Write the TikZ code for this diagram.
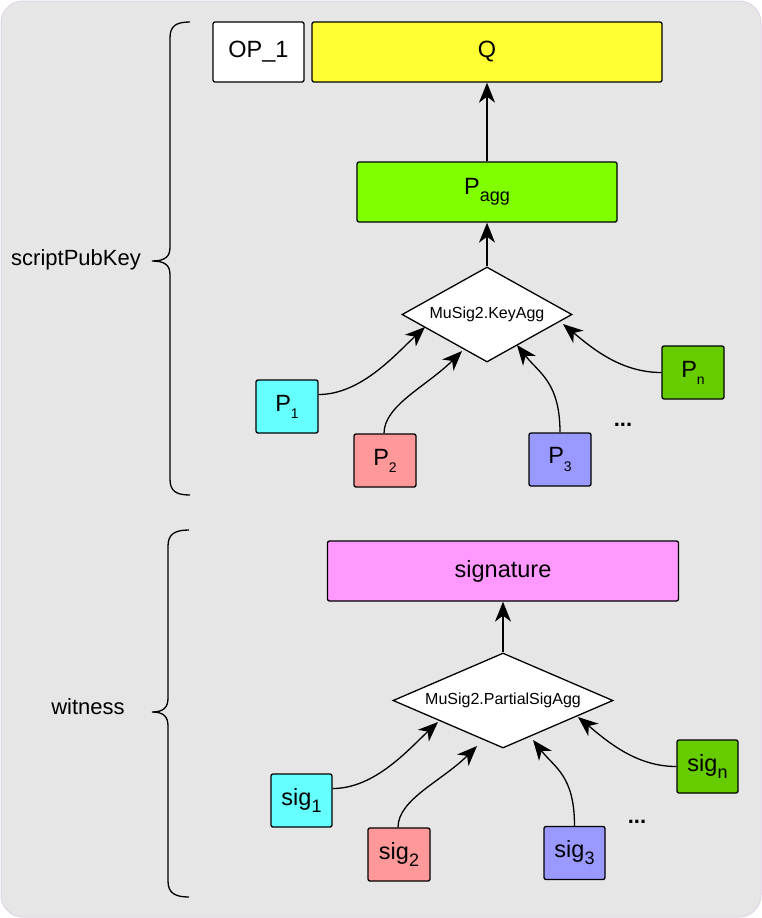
\documentclass[tikz,border=0pt]{standalone}
\usepackage{fontspec}
\setmainfont{Liberation Sans}
\usetikzlibrary{shapes.geometric,arrows.meta}

\definecolor{bggray}{HTML}{E6E6E6}
\definecolor{frame}{HTML}{E1D5E7}
\definecolor{qyellow}{HTML}{FFFF33}
\definecolor{aggreen}{HTML}{80FF00}
\definecolor{cyanbox}{HTML}{66FFFF}
\definecolor{redbox}{HTML}{FF9999}
\definecolor{bluebox}{HTML}{9999FF}
\definecolor{greenbox}{HTML}{66CC00}
\definecolor{sigpink}{HTML}{FF99FF}

\newcommand{\psub}[1]{\raisebox{-0.3em}{\fontsize{14}{14}\selectfont #1}}
\newcommand{\ssub}[1]{\raisebox{-0.3em}{\fontsize{18}{18}\selectfont #1}}

\tikzset{
  field/.style={draw, line width=1.3pt, rounded corners=2pt, inner sep=0pt,
    font=\fontsize{23.5}{27}\selectfont, minimum height=60pt},
  share/.style={field, minimum width=62pt, minimum height=53pt},
  agg/.style={draw, fill=white, diamond, line width=1.3pt, inner sep=0pt,
    font=\fontsize{16}{19}\selectfont},
  link/.style={line width=1.3pt, -{Stealth[length=20pt,width=16pt,inset=6pt]}},
  brace/.style={line width=1.3pt},
  side/.style={font=\fontsize{22}{26}\selectfont}
}

\begin{document}
\begin{tikzpicture}[x=1pt,y=-1pt]
\useasboundingbox (0,0) rectangle (762,918);
\filldraw[fill=bggray, draw=frame, line width=1pt, rounded corners=22pt] (1,1) rectangle (761,917);

% scriptPubKey
\node[field, fill=white, minimum width=91pt] (op) at (258.5,52) {OP\_1};
\node[field, fill=qyellow, minimum width=350pt] (q) at (487,52) {Q};
\node[field, fill=aggreen, minimum width=260pt] (pagg) at (487,192) {P\ssub{agg}};
\node[agg, aspect=1.8, minimum width=170pt, minimum height=95pt] (ka) at (487,314.5) {MuSig2.KeyAgg};

\node[share, fill=cyanbox] (p1) at (287,406.5) {P\psub{1}};
\node[share, fill=redbox] (p2) at (385,460.5) {P\psub{2}};
\node[share, fill=bluebox] (p3) at (560,459.5) {P\psub{3}};
\node[share, fill=greenbox] (pn) at (693,372.5) {P\psub{n}};
\node[side] (kdots) at (623,425) {\textbf{...}};

\coordinate (ka1) at (425,327);
\coordinate (ka2) at (462,351);
\coordinate (ka3) at (517,345);
\coordinate (ka4) at (563,324);

\draw[link] (pagg) -- (q);
\draw[link] (ka.north) -- (pagg);
\draw[link] ([yshift=12pt]p1.east) .. controls +(42,0) and +(-30,28) .. (ka1);
\draw[link] ([xshift=-1pt]p2.north) .. controls +(0,-28) and +(-35,35) .. (ka2);
\draw[link] (p3.north) .. controls +(0,-50) and +(22,28) .. (ka3);
\draw[link] (pn.west) .. controls +(-40,0) and +(30,25) .. (ka4);

% witness
\node[field, fill=sigpink, minimum width=351pt] (sig) at (503,571) {signature};
\node[agg, aspect=2.3, minimum width=220pt, minimum height=95pt] (pa) at (503,700.5) {MuSig2.PartialSigAgg};

\node[share, fill=cyanbox, minimum width=61pt] (s1) at (301.5,800.5) {sig\ssub{1}};
\node[share, fill=redbox] (s2) at (399,854.5) {sig\ssub{2}};
\node[share, fill=bluebox, minimum width=61pt] (s3) at (574.5,853) {sig\ssub{3}};
\node[share, fill=greenbox, minimum width=61pt] (sn) at (707.5,766.5) {sig\ssub{n}};
\node[side] (sdots) at (637,822) {\textbf{...}};

\coordinate (pa1) at (438,722);
\coordinate (pa2) at (477,746);
\coordinate (pa3) at (533,740);
\coordinate (pa4) at (578,717);

\draw[link] (pa.north) -- (sig);
\draw[link] ([yshift=12pt]s1.east) .. controls +(42,0) and +(-30,28) .. (pa1);
\draw[link] ([xshift=-1pt]s2.north) .. controls +(0,-28) and +(-35,35) .. (pa2);
\draw[link] (s3.north) .. controls +(0,-50) and +(22,28) .. (pa3);
\draw[link] (sn.west) .. controls +(-40,0) and +(30,25) .. (pa4);

% braces
\draw[brace] (190,22) .. controls (176,22) and (170,26) .. (170,38) -- (170,247)
  .. controls (170,256) and (166,261) .. (152,261)
  .. controls (166,261) and (170,266) .. (170,275) -- (170,479)
  .. controls (170,491) and (176,495) .. (190,495);
\draw[brace] (189,530) .. controls (175,530) and (168,534) .. (168,546) -- (168,698)
  .. controls (168,707) and (164,712) .. (152,712)
  .. controls (164,712) and (168,717) .. (168,726) -- (168,881)
  .. controls (168,893) and (175,897) .. (189,897);
\node[side] (spk) at (76,260) {scriptPubKey};
\node[side] (wit) at (88,707) {witness};
\end{tikzpicture}
\end{document}
